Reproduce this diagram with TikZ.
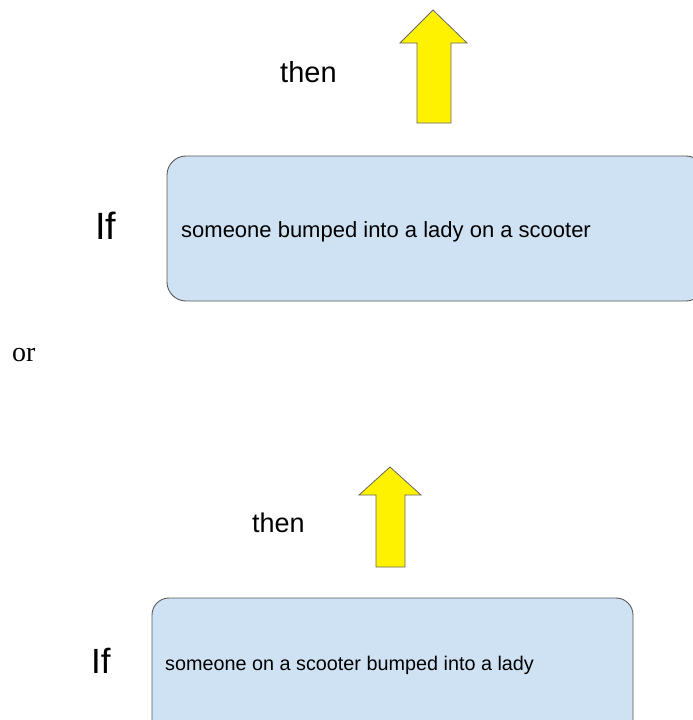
\documentclass[tikz,border=0pt]{standalone}
\usepackage{fontspec}
\setmainfont{Liberation Sans}
\newfontfamily\serifface{Liberation Serif}
\begin{document}
\begin{tikzpicture}[x=1pt,y=-1pt,
  ruleframe/.style={draw=black!65, line width=0.9pt, rounded corners=19pt},
  blockarrow/.style={draw=black!60, line width=0.8pt, fill=yellow},
  lbl/.style={inner sep=0pt, anchor=base west},
]
\definecolor{boxblue}{HTML}{CFE2F3}
\useasboundingbox (0,0) rectangle (693,720);
\clip (0,0) rectangle (693,720);

% first rule
\draw[blockarrow] (417,123) -- (417,43) -- (400,43) -- (433,10) -- (467,43) -- (451,43) -- (451,123) -- cycle;
\node[lbl, font=\fontsize{29}{32}\selectfont] (then1) at (280,82) {then};
\draw[ruleframe, fill=boxblue] (167,156) rectangle (705,301);
\node[lbl, font=\fontsize{38}{41}\selectfont] (if1) at (95,239) {If};
\node[lbl, font=\fontsize{22}{26}\selectfont] (cond1) at (181,237) {someone bumped into a lady on a scooter};

% separator
\node[lbl, font=\serifface\fontsize{28}{31}\selectfont] (or) at (12,361) {or};

% second rule
\draw[blockarrow] (376,567) -- (376,495) -- (359,495) -- (390,467) -- (421,495) -- (405,495) -- (405,567) -- cycle;
\node[lbl, font=\fontsize{27}{30}\selectfont] (then2) at (252,532) {then};
\draw[ruleframe, rounded corners=17pt, fill=boxblue] (152,598) rectangle (633,740);
\node[lbl, font=\fontsize{35}{38}\selectfont] (if2) at (91,673) {If};
\node[lbl, font=\fontsize{19.8}{23}\selectfont] (cond2) at (165,670) {someone on a scooter bumped into a lady};
\end{tikzpicture}
\end{document}
